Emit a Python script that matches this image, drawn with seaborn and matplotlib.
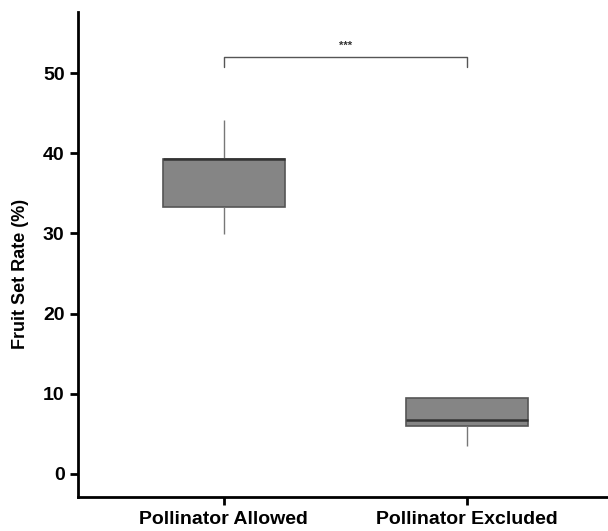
import numpy as np
import pandas as pd
import matplotlib
matplotlib.use("Agg")
import matplotlib.pyplot as plt
import seaborn as sns

# five-number values (min, Q1, median, Q3, max)
groups = ["Pollinator Allowed", "Pollinator Excluded"]
allowed = [29.9, 33.3, 39.3, 39.3, 44.1]
excluded = [3.5, 5.9, 6.7, 9.5, 9.5]
sig_label = "***"
sig_y = 52.0

df = pd.DataFrame({
    "group": [groups[0]] * len(allowed) + [groups[1]] * len(excluded),
    "rate": allowed + excluded,
})

sns.set_style("ticks")
plt.rcParams["font.family"] = ["Liberation Sans", "DejaVu Sans"]

fig = plt.figure(figsize=(6.08, 5.31), dpi=100)
ax = fig.add_axes([0.128, 0.064, 0.872, 0.913])

sns.boxplot(data=df, x="group", y="rate", order=groups, width=0.5,
            color="#858585", whis=1.5, showfliers=False, showcaps=False,
            boxprops=dict(facecolor="#858585", edgecolor="#555555", linewidth=1.2),
            whiskerprops=dict(color="#777777", linewidth=1.0),
            medianprops=dict(color="#333333", linewidth=1.8),
            ax=ax)

# significance bracket
ax.plot([0, 0, 1, 1], [sig_y - 1.2, sig_y, sig_y, sig_y - 1.2],
        color="#555555", lw=1.0)
ax.text(0.5, sig_y + 0.8, sig_label, ha="center", va="bottom",
        fontsize=8, fontweight="bold", color="#333333")

ax.set_xlim(-0.6, 1.58)
ax.set_ylim(-2.9, 57.6)
ax.set_yticks([0, 10, 20, 30, 40, 50])
ax.set_xlabel("")
ax.set_ylabel("Fruit Set Rate (%)", fontsize=13, fontweight="bold", color="black")
ax.yaxis.set_label_coords(-0.093, 0.46)
for lab in ax.get_yticklabels():
    lab.set_fontweight("bold")
    lab.set_fontsize(14)
    lab.set_color("black")
for lab in ax.get_xticklabels():
    lab.set_fontweight("bold")
    lab.set_fontsize(14)
    lab.set_color("black")

sns.despine(ax=ax)
for s in ["left", "bottom"]:
    ax.spines[s].set_linewidth(2)
    ax.spines[s].set_color("black")
ax.tick_params(axis="both", width=2, length=6, color="black")
ax.tick_params(axis="x", pad=4)

fig.savefig("out.png", dpi=100)
